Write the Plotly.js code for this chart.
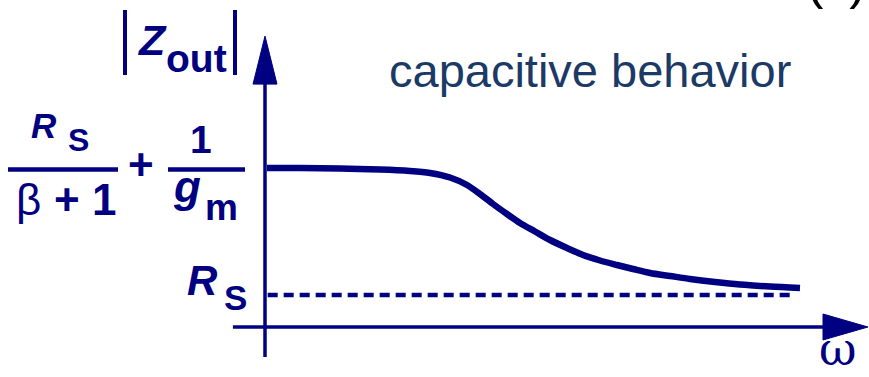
<!DOCTYPE html>
<html><head><meta charset="utf-8">
<script src="https://cdn.plot.ly/plotly-3.0.1.min.js"></script>
<style>html,body{margin:0;padding:0;background:#fff}#chart{width:869px;height:377px}</style>
</head><body><div id="chart"></div>
<script>
// curve |Zout|(omega), schematic units (R_S = 1)
const omega = [0.037, 0.654, 1.402, 2.150, 2.710, 3.084, 3.458, 3.776, 4.019, 4.262, 4.523, 4.766, 5.047,
               5.327, 5.645, 5.944, 6.262, 6.579, 6.879, 7.196, 7.570, 7.944, 8.411, 8.879, 9.439, 10.000];
const zout  = [4.969, 4.969, 4.953, 4.922, 4.875, 4.813, 4.672, 4.438, 4.156, 3.844, 3.531, 3.250, 2.984,
               2.719, 2.469, 2.250, 2.078, 1.938, 1.813, 1.688, 1.594, 1.500, 1.406, 1.328, 1.266, 1.219];
// R_S asymptote (dashed)
const rsOmega = [0.05, 9.85];
const rsZ = [1, 1];
// axis extents
const xAxisOmega = [-0.6, 10.43, 11.27];   // start, arrow base, arrow tip
const yAxisZ = [-0.94, 7.59, 9.09];        // start, arrow base, arrow tip

const NAVY = '#000080';
const W = 869, H = 377;
const px = x => x / W;
const py = y => 1 - y / H;

// labels: text, center x, baseline y (pixels), size, family, color
const SANS = 'Liberation Sans, Arial, sans-serif';
const SERIF = 'DejaVu Serif, Liberation Serif, serif';
const labels = [
  {t: 'capacitive behavior', x: 590, b: 87, s: 47, f: SANS, c: '#1b3a66', k: 0.3465},
  {t: '<b><i>Z</i></b>', x: 152, b: 55, s: 43, f: SANS, c: NAVY, k: 0.3465},
  {t: '<b>out</b>', x: 196, b: 72, s: 39, f: SANS, c: NAVY, k: 0.3465},
  {t: '<b><i>R</i></b>', x: 44, b: 138, s: 35, f: SANS, c: NAVY, k: 0.3465},
  {t: '<b>S</b>', x: 78.5, b: 151, s: 32, f: SANS, c: NAVY, k: 0.3465},
  {t: 'β', x: 29, b: 215, s: 44, f: SANS, c: NAVY, k: 0.3465},
  {t: '<b>+ 1</b>', x: 85, b: 215, s: 44, f: SANS, c: NAVY, k: 0.3465},
  {t: '<b>+</b>', x: 141, b: 180, s: 44, f: SANS, c: NAVY, k: 0.3465},
  {t: '<b>1</b>', x: 201, b: 153, s: 39, f: SANS, c: NAVY, k: 0.3465},
  {t: '<b><i>g</i></b>', x: 187, b: 202, s: 44, f: SANS, c: NAVY, k: 0.3465},
  {t: '<b>m</b>', x: 221, b: 220, s: 37, f: SANS, c: NAVY, k: 0.3465},
  {t: '<b><i>R</i></b>', x: 202, b: 295, s: 42, f: SANS, c: NAVY, k: 0.3465},
  {t: '<b>S</b>', x: 235.5, b: 310, s: 35, f: SANS, c: NAVY, k: 0.3465},
  {t: '(c)', x: 836, b: -2, s: 52, f: SANS, c: '#000000', k: 0.3465}
];

const annotations = labels.map(l => ({
  text: l.t, xref: 'paper', yref: 'paper',
  x: px(l.x), y: py(l.b - l.k * l.s),
  xanchor: 'center', yanchor: 'middle',
  showarrow: false, borderpad: 0,
  font: {family: l.f, size: l.s, color: l.c}
}));
// omega axis label, kept inside the page
annotations.push({
  text: 'ω', xref: 'paper', yref: 'paper', x: px(838), y: 0,
  xanchor: 'center', yanchor: 'bottom', showarrow: false, borderpad: 0,
  font: {family: SERIF, size: 46, color: NAVY}
});

const shapes = [
  // absolute-value bars around Z_out
  {type: 'line', xref: 'paper', yref: 'paper', x0: px(125), x1: px(125), y0: py(10), y1: py(75), line: {color: NAVY, width: 4}},
  {type: 'line', xref: 'paper', yref: 'paper', x0: px(235), x1: px(235), y0: py(10), y1: py(75), line: {color: NAVY, width: 4}},
  // fraction bars
  {type: 'line', xref: 'paper', yref: 'paper', x0: px(8), x1: px(118), y0: py(169.5), y1: py(169.5), line: {color: NAVY, width: 4.5}},
  {type: 'line', xref: 'paper', yref: 'paper', x0: px(168), x1: px(245), y0: py(169.5), y1: py(169.5), line: {color: NAVY, width: 4.5}},
  // vertical axis
  {type: 'line', xref: 'x', yref: 'y', x0: 0, x1: 0, y0: yAxisZ[0], y1: yAxisZ[1], line: {color: NAVY, width: 3.5}},
  {type: 'path', xref: 'x', yref: 'y', path: `M -0.224 ${yAxisZ[1]} L 0 ${yAxisZ[2]} L 0.224 ${yAxisZ[1]} Z`, fillcolor: NAVY, line: {color: NAVY, width: 1}},
  // horizontal axis
  {type: 'line', xref: 'x', yref: 'y', x0: xAxisOmega[0], x1: xAxisOmega[1], y0: 0, y1: 0, line: {color: NAVY, width: 3.5}},
  {type: 'path', xref: 'x', yref: 'y', path: `M ${xAxisOmega[1]} 0.406 L ${xAxisOmega[2]} 0 L ${xAxisOmega[1]} -0.406 Z`, fillcolor: NAVY, line: {color: NAVY, width: 1}}
];

const traces = [
  {x: rsOmega, y: rsZ, mode: 'lines', line: {color: NAVY, width: 4.5, dash: '10px,6px'}, hoverinfo: 'skip'},
  {x: omega, y: zout, mode: 'lines', line: {color: NAVY, width: 6.5, shape: 'spline', smoothing: 0.8}, hoverinfo: 'skip'}
];

const hidden = {showgrid: false, zeroline: false, showticklabels: false, ticks: '', showline: false, fixedrange: true};
const layout = {
  width: W, height: H,
  margin: {l: 0, r: 0, t: 0, b: 0, pad: 0},
  paper_bgcolor: '#ffffff', plot_bgcolor: '#ffffff',
  showlegend: false,
  xaxis: Object.assign({range: [-265 / 53.5, 604 / 53.5]}, hidden),
  yaxis: Object.assign({range: [-50 / 32, 327 / 32]}, hidden),
  annotations: annotations,
  shapes: shapes
};

Plotly.newPlot('chart', traces, layout, {displayModeBar: false, staticPlot: true});
</script>
</body></html>
